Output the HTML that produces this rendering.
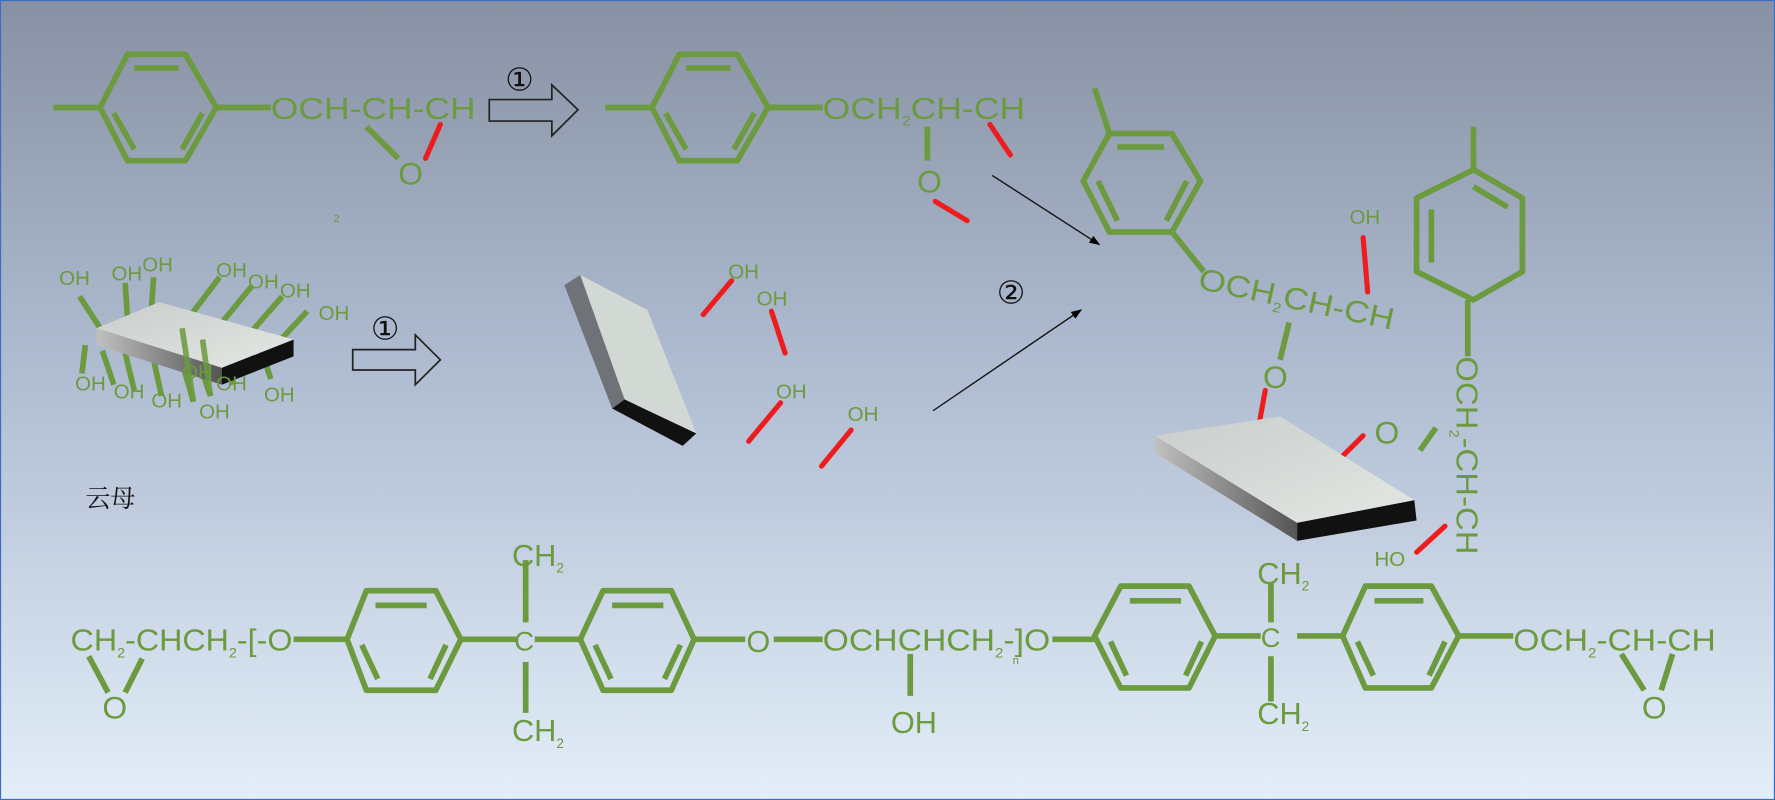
<!DOCTYPE html>
<html><head><meta charset="utf-8"><style>
html,body{margin:0;padding:0;width:1775px;height:800px;overflow:hidden}
svg{display:block}
</style></head><body>
<svg width="1775" height="800" viewBox="0 0 1560 707" preserveAspectRatio="none" xmlns="http://www.w3.org/2000/svg">
<defs>
<linearGradient id="bg" x1="0" y1="0" x2="0" y2="1">
<stop offset="0" stop-color="#8891a3"/><stop offset="0.45" stop-color="#aebbd0"/><stop offset="1" stop-color="#e3eef9"/></linearGradient>
<linearGradient id="face" x1="0" y1="0" x2="1" y2="1"><stop offset="0" stop-color="#c9cdcb"/><stop offset="1" stop-color="#e4e8e4"/></linearGradient>
<linearGradient id="edge" x1="0" y1="0" x2="1" y2="0"><stop offset="0" stop-color="#c0c0c0"/><stop offset="1" stop-color="#555"/></linearGradient>
<marker id="ah" markerWidth="8" markerHeight="8" refX="7" refY="4" orient="auto"><path d="M0,1 L8,4 L0,7z" fill="#000"/></marker>
</defs>
<rect width="1560" height="707" fill="url(#bg)" stroke="#3a6fc4" stroke-width="2"/>
<g fill="none" stroke="#6b9a3f" stroke-width="5" stroke-linejoin="round">
<polygon points="112,48 163,48 190,95 163,142 112,142 88,95"/>
<path d="M47,95H88 M190,95H238 M118,60H157 M100,100L118,132 M178,100L160,132 M322,112L350,140"/>
<polygon points="597,48 648,48 675,95 648,142 597,142 573,95"/>
<path d="M532,95H573 M675,95H723 M603,60H642 M585,100L603,132 M663,100L645,132 M815,112V142"/>
<polygon points="975,118 1030,118 1055,160 1030,205 975,205 952,160"/>
<path d="M962,78L975,118 M982,130H1023 M965,160L982,195 M1043,160L1025,195 M1030,205L1058,240 M1133,285L1125,318"/>
<polygon points="1295,150 1338,175 1338,240 1295,265 1245,240 1245,175"/>
<path d="M1295,112V150 M1258,185V232 M1295,165L1325,183 M1290,265V315 M1262,378L1248,398"/>
<path d="M70,262L88,290 M110,250L112,280 M135,245L133,275 M168,278L193,245 M195,285L222,252 M222,292L248,262 M245,302L270,275 M75,305L72,330 M90,310L100,340 M110,312L118,345 M135,318L142,350 M160,320L170,355 M172,312L185,350 M200,320L205,340 M230,310L238,335"/>
<path d="M78,580L95,612 M125,582L110,612 M258,565H305 M405,565H455 M462,495V550 M462,585V630 M470,565H510 M610,565H655 M680,565H723 M800,578V615 M925,565H962 M1068,562H1108 M1117,515V550 M1117,580V620 M1140,562H1180 M1282,562H1330 M1425,578L1445,610 M1470,578L1460,610"/>
<polygon points="322,522 383,522 405,565 383,610 322,610 305,565"/>
<path d="M330,535H375 M318,570L332,600 M392,570L378,600"/>
<polygon points="530,522 590,522 610,565 590,610 530,610 510,565"/>
<path d="M538,535H583 M523,570L537,600 M598,570L584,600"/>
<polygon points="985,518 1045,518 1068,562 1045,608 985,608 962,562"/>
<path d="M993,531H1038 M976,567L990,597 M1056,567L1042,597"/>
<polygon points="1200,518 1258,518 1282,562 1258,608 1200,608 1180,562"/>
<path d="M1208,531H1251 M1193,567L1207,597 M1270,567L1256,597"/>
</g>
<g stroke="#ee1c1c" stroke-width="4.5" stroke-linecap="round">
<path d="M387,110L374,140 M870,110L888,137 M822,178L850,195 M618,278L643,248 M678,275L690,312 M658,390L686,356 M722,412L748,380 M1198,210L1202,258 M1112,345L1106,378 M1198,385L1173,410 M1245,488L1270,465"/>
</g>
<g>
<polygon points="85,290 85,305 195,340 195,325" fill="url(#edge)"/>
<polygon points="195,325 258,300 258,315 195,340" fill="#111"/>
<polygon points="85,290 140,267 258,300 195,325" fill="url(#face)"/>
<polygon points="510,243 496,252 538,361 549,353" fill="#6f7378"/>
<polygon points="549,353 612,383 600,394 538,361" fill="#111"/>
<polygon points="510,243 569,274 612,383 549,353" fill="#d2d8d4"/>
<polygon points="1015,385 1015,400 1140,478 1140,462" fill="url(#edge)"/>
<polygon points="1140,462 1243,442 1245,460 1140,478" fill="#111"/>
<polygon points="1015,385 1125,368 1243,442 1140,462" fill="url(#face)"/>
</g>
<g stroke="#6b9a3f" stroke-width="5" opacity="0.85">
<path d="M160,290L170,355 M178,300L185,350"/>
</g>
<g fill="#6b9a3f" font-family="'Liberation Sans Narrow','Liberation Sans',sans-serif">
<text x="238" y="105" font-size="27" textLength="180" lengthAdjust="spacingAndGlyphs">OCH-CH-CH</text>
<text x="350" y="163" font-size="28">O</text>
<text x="723" y="105" font-size="27" textLength="178" lengthAdjust="spacingAndGlyphs">OCH<tspan font-size="12" dy="6">2</tspan><tspan dy="-6">CH-CH</tspan></text>
<text x="806" y="170" font-size="28">O</text>
<text x="1052" y="255" font-size="27" textLength="175" lengthAdjust="spacingAndGlyphs" transform="rotate(12 1052 255)">OCH<tspan font-size="12" dy="6">2</tspan><tspan dy="-6">CH-CH</tspan></text>
<text x="1186" y="198" font-size="18">OH</text>
<text x="1110" y="343" font-size="28">O</text>
<text x="1208" y="392" font-size="28">O</text>
<text x="1208" y="500" font-size="18">HO</text>
<text x="1280" y="315" font-size="27" textLength="175" lengthAdjust="spacingAndGlyphs" transform="rotate(90 1280 315)">OCH<tspan font-size="12" dy="6">2</tspan><tspan dy="-6">-CH-CH</tspan></text>
<text x="293" y="196" font-size="10">2</text>
<g font-size="18">
<text x="52" y="252">OH</text><text x="98" y="248">OH</text><text x="125" y="240">OH</text>
<text x="190" y="245">OH</text><text x="218" y="255">OH</text><text x="246" y="263">OH</text>
<text x="280" y="283">OH</text>
<text x="66" y="345">OH</text><text x="100" y="352">OH</text><text x="133" y="360">OH</text>
<text x="160" y="335">OH</text><text x="175" y="370">OH</text><text x="190" y="345">OH</text><text x="232" y="355">OH</text>
<text x="640" y="246">OH</text><text x="665" y="270">OH</text><text x="682" y="352">OH</text><text x="745" y="372">OH</text>
</g>
<text x="62" y="575" font-size="27" textLength="195" lengthAdjust="spacingAndGlyphs">CH<tspan font-size="12" dy="6">2</tspan><tspan dy="-6">-CHCH</tspan><tspan font-size="12" dy="6">2</tspan><tspan dy="-6">-[-O</tspan></text>
<text x="90" y="635" font-size="28">O</text>
<text x="452" y="575" font-size="24">C</text>
<text x="450" y="500" font-size="27">CH<tspan font-size="12" dy="6">2</tspan></text>
<text x="450" y="655" font-size="27">CH<tspan font-size="12" dy="6">2</tspan></text>
<text x="656" y="576" font-size="27">O</text>
<text x="723" y="575" font-size="27" textLength="200" lengthAdjust="spacingAndGlyphs">OCHCHCH<tspan font-size="12" dy="6">2</tspan><tspan dy="-6">-]O</tspan></text>
<text x="890" y="587" font-size="10">n</text>
<text x="783" y="648" font-size="27">OH</text>
<text x="1108" y="572" font-size="24">C</text>
<text x="1105" y="516" font-size="27">CH<tspan font-size="12" dy="6">2</tspan></text>
<text x="1105" y="640" font-size="27">CH<tspan font-size="12" dy="6">2</tspan></text>
<text x="1330" y="575" font-size="27" textLength="178" lengthAdjust="spacingAndGlyphs">OCH<tspan font-size="12" dy="6">2</tspan><tspan dy="-6">-CH-CH</tspan></text>
<text x="1443" y="635" font-size="28">O</text>
</g>
<g fill="none" stroke="#222" stroke-width="1.5">
<path d="M430,88H485V75L508,97L485,120V107H430Z"/>
<path d="M310,309H365V296L387,318L365,340V327H310Z"/>
</g>
<g stroke="#111" stroke-width="1.2" marker-end="url(#ah)">
<line x1="872" y1="155" x2="966" y2="216"/>
<line x1="820" y1="363" x2="950" y2="274"/>
</g>
<g font-family="'DejaVu Sans',sans-serif" font-size="28" fill="#111">
<text x="444" y="80">①</text><text x="326" y="300">①</text><text x="876" y="268">②</text>
</g>
<text x="75" y="448" font-family="'Liberation Serif','Noto Serif CJK SC',serif" font-size="22" fill="#111">云母</text>
</svg>
</body></html>
